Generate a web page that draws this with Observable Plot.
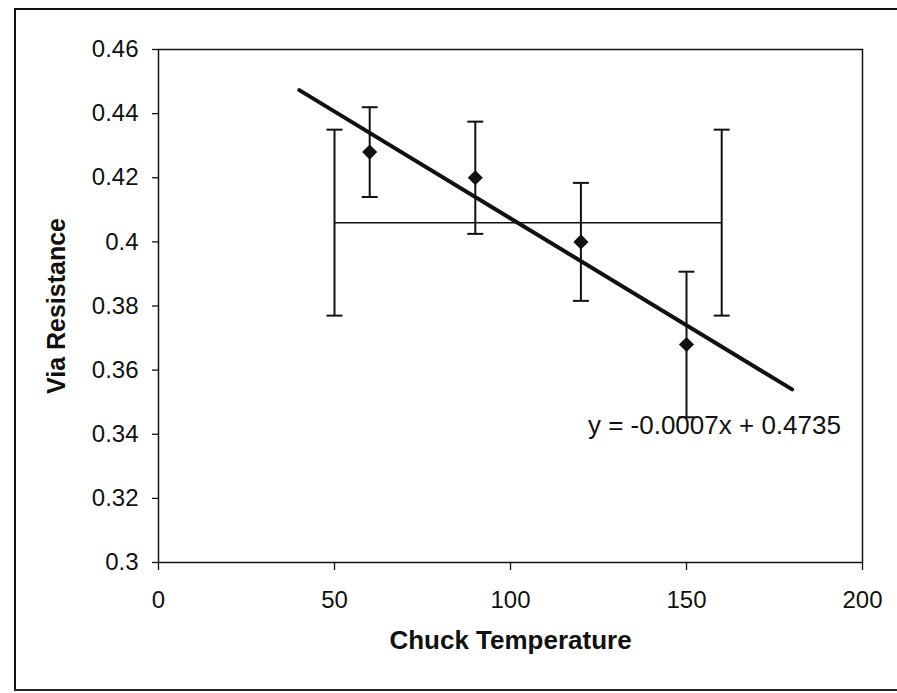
<!DOCTYPE html>
<html>
<head>
<meta charset="utf-8">
<script src="https://cdn.jsdelivr.net/npm/d3@7"></script>
<script src="https://cdn.jsdelivr.net/npm/@observablehq/plot@0.6"></script>
<style>
  html, body { margin: 0; padding: 0; background: #fff; overflow: hidden; }
  #wrap { position: relative; width: 897px; height: 693px; overflow: hidden; }
  .edge { position: absolute; background: #111; }
  #bTop { left: 14px; top: 8px; width: 883px; height: 2px; }
  #bLeft { left: 14px; top: 8px; width: 2px; height: 683px; }
  #bBottom { left: 14px; top: 689px; width: 883px; height: 2px; background: #222; }
  #chart { position: absolute; left: 0; top: 0; }
</style>
</head>
<body>
<div id="wrap">
  <div class="edge" id="bTop"></div><div class="edge" id="bLeft"></div><div class="edge" id="bBottom"></div>
  <div id="chart"></div>
</div>
<script>
// Data
const temps = [60, 90, 120, 150];
const resistance = [0.428, 0.420, 0.400, 0.368];
const errors = [0.014, 0.0175, 0.0184, 0.0227];
// overall span bracket (horizontal bar with end bars)
const spanX = [50, 160];
const spanY = 0.406;
const spanErr = 0.029;
// trend line extent (forecast backward / forward)
const trendRange = [40, 180];
const equationText = "y = -0.0007x + 0.4735";
const xTicks = [0, 50, 100, 150, 200];
const yTicks = [0.30, 0.32, 0.34, 0.36, 0.38, 0.40, 0.42, 0.44, 0.46];

const points = temps.map((t, i) => ({x: t, y: resistance[i], lo: resistance[i] - errors[i], hi: resistance[i] + errors[i]}));
const spanBars = spanX.map(x => ({x, lo: spanY - spanErr, hi: spanY + spanErr}));
const spanLine = [{y: spanY, x1: spanX[0], x2: spanX[1]}];

// least squares fit of the data
const mx = d3.mean(temps), my = d3.mean(resistance);
const slope = d3.sum(temps, (t, i) => (t - mx) * (resistance[i] - my)) / d3.sum(temps, t => (t - mx) ** 2);
const intercept = my - slope * mx;
const trend = trendRange.map(x => ({x, y: intercept + slope * x}));

const capSymbol = {draw(ctx) { ctx.moveTo(-8, 0); ctx.lineTo(8, 0); }};
const font = "'Liberation Sans', Arial, sans-serif";

const chart = Plot.plot({
  width: 897,
  height: 693,
  marginLeft: 158,
  marginRight: 35,
  marginTop: 49,
  marginBottom: 131,
  style: {fontFamily: font, fontSize: "24px", color: "#111", background: "transparent"},
  x: {domain: [0, 200]},
  y: {domain: [0.3, 0.46]},
  marks: [
    Plot.axisY({ticks: yTicks, tickSize: 6, tickPadding: 14, tickFormat: d => String(+d.toFixed(2)), label: null, strokeWidth: 1.3}),
    Plot.axisX({ticks: xTicks, tickSize: 8, tickPadding: 20, tickFormat: d => String(d), label: null, strokeWidth: 1.3}),
    Plot.frame({stroke: "#111", strokeWidth: 1.5}),
    // span bracket
    Plot.ruleY(spanLine, {y: "y", x1: "x1", x2: "x2", stroke: "#111", strokeWidth: 1.5}),
    Plot.ruleX(spanBars, {x: "x", y1: "lo", y2: "hi", stroke: "#111", strokeWidth: 2}),
    Plot.dot(spanBars, {x: "x", y: "lo", symbol: capSymbol, stroke: "#111", strokeWidth: 2}),
    Plot.dot(spanBars, {x: "x", y: "hi", symbol: capSymbol, stroke: "#111", strokeWidth: 2}),
    // point error bars
    Plot.ruleX(points, {x: "x", y1: "lo", y2: "hi", stroke: "#111", strokeWidth: 2}),
    Plot.dot(points, {x: "x", y: "lo", symbol: capSymbol, stroke: "#111", strokeWidth: 2}),
    Plot.dot(points, {x: "x", y: "hi", symbol: capSymbol, stroke: "#111", strokeWidth: 2}),
    // trend line
    Plot.line(trend, {x: "x", y: "y", stroke: "#111", strokeWidth: 4}),
    // data points
    Plot.dot(points, {x: "x", y: "y", symbol: "diamond2", r: 6.8, fill: "#111", stroke: "none"}),
    // equation
    Plot.text([equationText], {x: 122, y: 0.3427, text: d => d, textAnchor: "start", fontSize: 26, fill: "#111"}),
    // axis titles
    Plot.text(["Chuck Temperature"], {frameAnchor: "bottom", dy: 86, text: d => d, textAnchor: "middle", fontSize: 26, fontWeight: "bold", fill: "#111"}),
    Plot.text(["Via Resistance"], {frameAnchor: "left", dx: -102, rotate: -90, text: d => d, textAnchor: "middle", fontSize: 25, fontWeight: "bold", fill: "#111"})
  ]
});
document.getElementById("chart").appendChild(chart);
</script>
</body>
</html>
